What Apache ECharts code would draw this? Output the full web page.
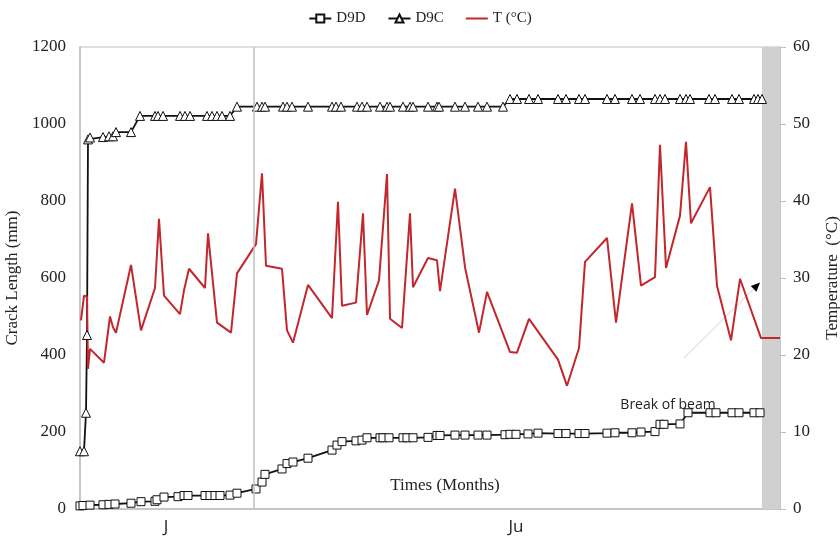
<!DOCTYPE html>
<html>
<head>
<meta charset="utf-8">
<script src="https://cdn.jsdelivr.net/npm/echarts@6/dist/echarts.min.js"></script>
<style>
  html, body { margin: 0; padding: 0; background: #fff; }
  #main { width: 840px; height: 539px; }
</style>
</head>
<body>
<div id="main"></div>
<script>
// time in days from start of test
var dayD9D = [0, 0.75, 2.5, 5.75, 7.25, 8.75, 12.75, 15.25, 18.75, 19.25, 21, 24.5, 26, 27, 31.25, 32.5, 33.75, 35, 37.5, 39.25,
    44, 45.5, 46.25, 50.5, 51.75, 53.25, 57, 63, 64.25, 65.5, 69, 70.5, 71.75, 75, 75.75, 77.25, 80.75, 81.75, 83.25,
    87, 89.25, 90, 93.75, 96.25, 99.5, 101.75, 106.25, 107.5, 109, 112, 114.5, 119.5, 121.5, 124.75, 126.25, 131.75,
    133.75, 138, 140.25, 143.75, 145, 146, 150, 152, 157.5, 159, 163, 164.75, 168.5, 170];
var valD9D = [8, 9, 10, 11, 12, 13, 15, 19, 20, 24, 31, 32, 35, 35, 35, 35, 35, 35, 36, 41,
    52, 70, 90, 104, 118, 122, 132, 153, 166, 175, 177, 179, 185, 185, 185, 185, 185, 185, 185,
    186, 191, 191, 192, 192, 192, 192, 193, 194, 194, 195, 197, 196, 196, 196, 196, 197,
    198, 198, 200, 201, 220, 220, 221, 250, 250, 250, 250, 250, 250, 250];

var dayD9C = [0, 1, 1.5, 1.75, 2, 2.5, 5.75, 7.25, 8.25, 9, 12.75, 15, 18.75, 19.5, 20.75, 25, 26.25, 27.5, 31.75, 33,
    34.25, 35.5, 37.5, 39.25, 44.25, 45.5, 46.25, 50.75, 51.75, 53, 57, 63, 64, 65.25, 69.25, 70.5, 71.75, 75, 76.75,
    77.5, 80.75, 82.5, 83.25, 87, 89.25, 89.75, 93.75, 96.25, 99.5, 101.75, 105.75, 107.5, 109.25, 112.25, 114.5,
    119.5, 121.5, 124.75, 126.25, 131.75, 133.75, 138, 140, 143.75, 145, 146.25, 150, 151.5, 152.5, 157.25, 158.75,
    163, 164.75, 168.5, 169.5, 170.5];
var valD9C = [150, 150, 250, 452, 960, 965, 966, 968, 968, 979, 979, 1021, 1021, 1021, 1021, 1021, 1021, 1021, 1021, 1021,
    1021, 1021, 1021, 1045, 1045, 1045, 1045, 1045, 1045, 1045, 1045, 1045, 1045, 1045, 1045, 1045, 1045, 1045, 1045,
    1045, 1045, 1045, 1045, 1045, 1045, 1045, 1045, 1045, 1045, 1045, 1045, 1065, 1065, 1065, 1065,
    1065, 1065, 1065, 1065, 1065, 1065, 1065, 1065, 1065, 1065, 1065, 1065, 1065, 1065, 1065, 1065,
    1065, 1065, 1065, 1065, 1065];

var dayT = [0.25, 1, 1.75, 2, 2.5, 6, 7.5, 8.25, 9, 12.75, 15.25, 18.75, 19.75, 21, 25, 26, 27.25, 31.25, 32, 34.25,
    37.75, 39.25, 44, 45.5, 46.5, 50.5, 51.75, 53.25, 57, 63, 64.5, 65.5, 69, 70.75, 71.75, 74.75, 76.75, 77.5, 80.5,
    82.5, 83.25, 87, 89.25, 90, 93.75, 96.25, 99.75, 101.75, 107.5, 109.25, 112.25, 119.5, 121.75, 124.75, 126.25,
    131.75, 134, 138, 140.25, 143.75, 145, 146.5, 150, 151.5, 152.75, 157.5, 159.25, 162.75, 165, 170.25, 175];
var valT = [24.5, 27.7, 27.6, 18.2, 20.8, 19.0, 25.0, 23.6, 22.9, 31.7, 23.2, 28.7, 37.7, 27.7, 25.3, 28.4, 31.2, 28.7, 35.8, 24.2,
    22.9, 30.6, 34.4, 43.6, 31.6, 31.2, 23.2, 21.6, 29.1, 24.8, 39.9, 26.4, 26.8, 38.4, 25.2, 29.7, 43.5, 24.7, 23.5,
    38.4, 28.8, 32.6, 32.3, 28.3, 41.6, 31.4, 22.9, 28.2, 20.4, 20.3, 24.7, 19.4, 16.0, 20.9, 32.1,
    35.2, 24.2, 39.7, 29.0, 30.1, 47.3, 31.3, 38.1, 47.7, 37.1, 41.8, 29.0, 21.9, 29.9, 22.2, 22.2];

var monthLabels = ['J', 'Ju'];
var monthPos = [21.5, 109];
var dividerDay = 43.5;
var breakBand = [170.5, 175];

function pairs(xs, ys) {
    return xs.map(function (x, i) { return [x, ys[i]]; });
}

var serif = 'Liberation Serif';
var sans = 'Open Sans';
var grey = '#bfbfbf';
var red = '#c1272d';

var chart = echarts.init(document.getElementById('main'));
var option = {
    animation: false,
    backgroundColor: '#fff',
    legend: {
        top: 6,
        left: 'center',
        itemWidth: 22,
        itemHeight: 10,
        itemGap: 22,
        textStyle: { fontFamily: serif, fontSize: 15, color: '#222' },
        data: ['D9D', 'D9C', { name: 'T (°C)', icon: 'path://M0,4L22,4L22,6L0,6Z', itemStyle: { color: red } }]
    },
    grid: {
        left: 80, right: 60, top: 47, bottom: 30,
        outerBoundsMode: 'none',
        containLabel: false,
        show: true, borderColor: grey, borderWidth: 1
    },
    xAxis: {
        type: 'value',
        min: 0, max: 175,
        splitLine: { show: false },
        axisLine: { lineStyle: { color: grey, width: 1.5 } },
        axisTick: { show: false },
        axisLabel: {
            customValues: monthPos,
            margin: 10,
            fontFamily: sans, fontSize: 17, color: '#222',
            formatter: function (v) {
                var i = monthPos.indexOf(v);
                return i >= 0 ? monthLabels[i] : '';
            }
        }
    },
    yAxis: [{
        type: 'value',
        min: 0, max: 1200, interval: 200,
        name: 'Crack Length (mm)',
        nameLocation: 'middle',
        nameRotate: 90,
        nameGap: 58,
        nameTextStyle: { fontFamily: serif, fontSize: 17, color: '#222' },
        splitLine: { show: false },
        axisLine: { show: true, lineStyle: { color: grey, width: 1.5 } },
        axisTick: { show: false },
        axisLabel: {
            margin: 14, fontFamily: serif, fontSize: 17, color: '#222',
            formatter: function (v) { return String(v); }
        }
    }, {
        type: 'value',
        min: 0, max: 60, interval: 10,
        position: 'right',
        name: 'Temperature  (°C)',
        nameLocation: 'middle',
        nameRotate: 90,
        nameGap: 44,
        nameTextStyle: { fontFamily: serif, fontSize: 17, color: '#222' },
        splitLine: { show: false },
        axisLine: { show: true, lineStyle: { color: grey, width: 1.5 } },
        axisTick: { show: true, length: 6, lineStyle: { color: grey } },
        axisLabel: {
            margin: 13, fontFamily: serif, fontSize: 17, color: '#222',
            formatter: function (v) { return String(v); }
        }
    }],
    series: [{
        name: 'D9D',
        type: 'line',
        data: pairs(dayD9D, valD9D),
        symbol: 'rect',
        symbolSize: 8,
        showAllSymbol: true,
        lineStyle: { color: '#111', width: 1.8 },
        itemStyle: { color: '#fff', borderColor: '#111', borderWidth: 1 },
        markLine: {
            silent: true,
            symbol: ['none', 'none'],
            label: { show: false },
            lineStyle: { color: grey, width: 1.5, type: 'solid' },
            data: [{ xAxis: dividerDay }]
        },
        markArea: {
            silent: true,
            itemStyle: { color: '#d0d0d0' },
            data: [[{ xAxis: breakBand[0] }, { xAxis: breakBand[1] }]]
        }
    }, {
        name: 'D9C',
        type: 'line',
        data: pairs(dayD9C, valD9C),
        symbol: 'triangle',
        symbolSize: 9,
        showAllSymbol: true,
        lineStyle: { color: '#111', width: 1.8 },
        itemStyle: { color: '#fff', borderColor: '#111', borderWidth: 1 }
    }, {
        name: 'T (°C)',
        type: 'line',
        yAxisIndex: 1,
        data: pairs(dayT, valT),
        showSymbol: false,
        symbol: 'none',
        lineStyle: { color: red, width: 2 },
        itemStyle: { color: red }
    }]
};
chart.setOption(option);

// annotation: arrow to the break of the beam
var tail = chart.convertToPixel({ xAxisIndex: 0, yAxisIndex: 1 }, [151, 19.6]);
var tip = chart.convertToPixel({ xAxisIndex: 0, yAxisIndex: 1 }, [170, 29.4]);
var txt = chart.convertToPixel({ xAxisIndex: 0, yAxisIndex: 1 }, [147, 13.5]);
var ttl = chart.convertToPixel({ xAxisIndex: 0, yAxisIndex: 0 }, [91.25, 62]);
var ang = Math.atan2(tip[1] - tail[1], tip[0] - tail[0]);
var hl = 9, hw = 4;
var bx = tip[0] - hl * Math.cos(ang), by = tip[1] - hl * Math.sin(ang);
var head = [
    tip,
    [bx + hw * Math.sin(ang), by - hw * Math.cos(ang)],
    [bx - hw * Math.sin(ang), by + hw * Math.cos(ang)]
];

chart.setOption({
    graphic: [{
        type: 'line',
        silent: true,
        shape: { x1: tail[0], y1: tail[1], x2: bx, y2: by },
        style: { stroke: '#cfcfcf', lineWidth: 1 }
    }, {
        type: 'polygon',
        silent: true,
        shape: { points: head },
        style: { fill: '#000' }
    }, {
        type: 'text',
        silent: true,
        x: txt[0], y: txt[1],
        style: {
            text: 'Break of beam',
            fontFamily: sans, fontSize: 14, fill: '#222',
            align: 'center', verticalAlign: 'middle'
        }
    }, {
        type: 'text',
        silent: true,
        x: ttl[0], y: ttl[1],
        style: {
            text: 'Times (Months)',
            fontFamily: serif, fontSize: 17, fill: '#222',
            align: 'center', verticalAlign: 'middle'
        }
    }]
});

window.addEventListener('resize', function () {
    chart.resize();
});
</script>
</body>
</html>
